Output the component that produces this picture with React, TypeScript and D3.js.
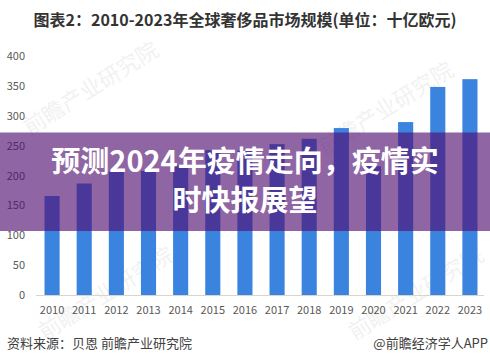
import React, { useEffect, useRef } from 'react';
import * as d3 from 'd3';

// 2010-2023 global luxury market size (billion EUR)
const years = ['2010', '2011', '2012', '2013', '2014', '2015', '2016', '2017', '2018', '2019', '2020', '2021', '2022', '2023'];
const marketSize = [166, 187, 207, 208, 218, 243, 242, 253, 262, 280, 216, 290, 349, 362];
const yTicks = [0, 50, 100, 150, 200, 250, 300, 350, 400];

const chartTitle = '图表2：2010-2023年全球奢侈品市场规模(单位：十亿欧元)';
const bannerLines = ['预测2024年疫情走向，疫情实', '时快报展望'];
const sourceText = '资料来源：贝恩 前瞻产业研究院';
const brandText = '@前瞻经济学人APP';
const watermarks = [
  { x: 95, y: 95 },
  { x: 390, y: 115 },
  { x: 110, y: 300 },
  { x: 420, y: 300 },
];

const FONT = '"Noto Sans CJK SC", "Noto Sans", sans-serif';

const App = () => {
  const d3Container = useRef<SVGSVGElement | null>(null);

  useEffect(() => {
    const width = 490;
    const height = 364;

    const svg = d3.select(d3Container.current);
    svg.selectAll('*').remove();

    svg.append('rect').attr('width', width).attr('height', height).attr('fill', '#fff');

    const x = d3.scaleBand<string>().domain(years).range([36, 486]).paddingInner(0.53).paddingOuter(0.265);
    const y = d3.scaleLinear().domain([0, 400]).range([295, 56.5]);

    // title
    svg
      .append('text')
      .attr('x', 245)
      .attr('y', 26)
      .attr('text-anchor', 'middle')
      .style('font-family', FONT)
      .style('font-weight', 'bold')
      .style('font-size', '16px')
      .style('fill', '#333')
      .text(chartTitle);

    // faint watermarks
    svg
      .selectAll('.wm')
      .data(watermarks)
      .enter()
      .append('text')
      .attr('class', 'wm')
      .attr('transform', d => `translate(${d.x},${d.y}) rotate(-32)`)
      .attr('text-anchor', 'middle')
      .style('font-family', FONT)
      .style('font-size', '22px')
      .style('fill', '#000')
      .style('opacity', 0.05)
      .text('前瞻产业研究院');

    // y labels
    svg
      .selectAll('.ylab')
      .data(yTicks)
      .enter()
      .append('text')
      .attr('class', 'ylab')
      .attr('x', 25)
      .attr('y', d => y(d))
      .attr('dy', '0.35em')
      .attr('text-anchor', 'end')
      .style('font-family', FONT)
      .style('font-size', '11px')
      .style('fill', '#595959')
      .text(d => d);

    // bars
    svg
      .selectAll('.bar')
      .data(marketSize)
      .enter()
      .append('rect')
      .attr('class', 'bar')
      .attr('x', (d, i) => x(years[i]) as number)
      .attr('y', d => y(d))
      .attr('width', x.bandwidth())
      .attr('height', d => y(0) - y(d))
      .attr('fill', '#3a84e0');

    // baseline
    svg
      .append('line')
      .attr('x1', 36)
      .attr('x2', 484)
      .attr('y1', y(0) + 0.5)
      .attr('y2', y(0) + 0.5)
      .attr('stroke', '#d9d4cc')
      .attr('stroke-width', 1);

    // x labels
    svg
      .selectAll('.xlab')
      .data(years)
      .enter()
      .append('text')
      .attr('class', 'xlab')
      .attr('x', d => (x(d) as number) + x.bandwidth() / 2)
      .attr('y', 310)
      .attr('dy', '0.35em')
      .attr('text-anchor', 'middle')
      .style('font-family', FONT)
      .style('font-size', '11px')
      .style('fill', '#595959')
      .text(d => d);

    // footer
    svg
      .append('text')
      .attr('x', 7)
      .attr('y', 343)
      .attr('dy', '0.35em')
      .style('font-family', FONT)
      .style('font-size', '13px')
      .style('fill', '#404040')
      .text(sourceText);

    svg
      .append('text')
      .attr('x', 488)
      .attr('y', 343)
      .attr('dy', '0.35em')
      .attr('text-anchor', 'end')
      .style('font-family', FONT)
      .style('font-size', '13px')
      .style('fill', '#404040')
      .text(brandText);

    // purple banner over the chart
    svg
      .append('rect')
      .attr('x', 0)
      .attr('y', 132.5)
      .attr('width', width)
      .attr('height', 98.5)
      .attr('fill', 'rgb(82,14,112)')
      .attr('opacity', 0.64);

    svg
      .selectAll('.banner')
      .data(bannerLines)
      .enter()
      .append('text')
      .attr('class', 'banner')
      .attr('x', 245)
      .attr('y', (d, i) => 162 + i * 38.5)
      .attr('dy', '0.36em')
      .attr('text-anchor', 'middle')
      .style('font-family', FONT)
      .style('font-weight', 'bold')
      .style('font-size', '29px')
      .style('fill', '#fff')
      .text(d => d);
  }, []);

  return (
    <svg
      ref={d3Container}
      width={490}
      height={364}
      style={{ position: 'absolute', left: 0, top: 0, display: 'block' }}
    />
  );
};

export default App;
